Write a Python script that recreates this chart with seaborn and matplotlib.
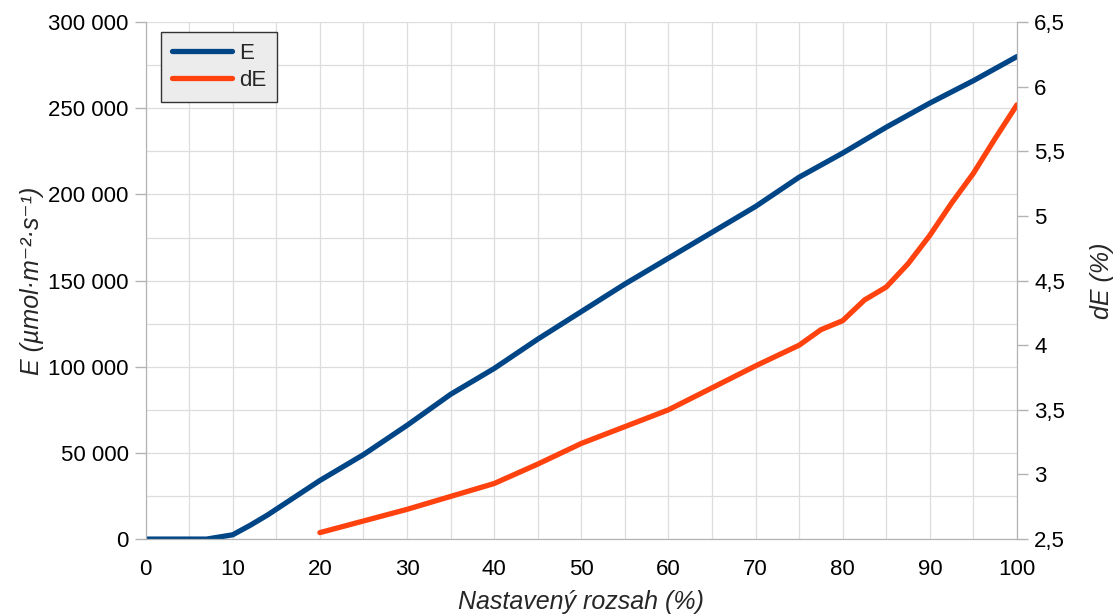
import matplotlib
matplotlib.use("Agg")
import matplotlib.pyplot as plt
import seaborn as sns
import pandas as pd
from matplotlib.ticker import FuncFormatter, MultipleLocator
from matplotlib.lines import Line2D

# E (umol m-2 s-1) vs nastaveny rozsah
rozsah_E = [0, 5, 7, 10, 12, 14, 20, 25, 30, 35, 40, 45, 50, 55, 60, 65, 70, 75, 80, 85, 90, 95, 100]
hodnoty_E = [0, 0, 0, 2500, 8000, 14000, 34000, 49000, 66000, 84000, 99000, 116000, 132000,
             148000, 163000, 178000, 193000, 210000, 224000, 239000, 253000, 266000, 280000]

# dE (%)
rozsah_dE = [20, 25, 30, 35, 40, 45, 50, 55, 60, 65, 70, 75, 77.5, 80, 82.5, 85, 87.5, 90, 92.5, 95, 97.5, 100]
hodnoty_dE = [2.55, 2.64, 2.73, 2.83, 2.93, 3.08, 3.24, 3.37, 3.50, 3.67, 3.84, 4.00, 4.12, 4.19,
              4.35, 4.45, 4.63, 4.85, 5.10, 5.33, 5.60, 5.86]

df_E = pd.DataFrame({"rozsah": rozsah_E, "E": hodnoty_E})
df_dE = pd.DataFrame({"rozsah": rozsah_dE, "dE": hodnoty_dE})

sns.set_style("white")
plt.rcParams['font.family'] = ['Liberation Sans', 'DejaVu Sans']

modra = "#004586"
oranzova = "#ff420e"
sediva = "#b3b3b3"
tloustka = 3.8

fig = plt.figure(figsize=(11.2, 6.14), dpi=100)
ax = fig.add_axes([0.130, 0.122, 0.778, 0.842])
ax2 = ax.twinx()

sns.lineplot(data=df_E, x="rozsah", y="E", ax=ax, color=modra, linewidth=tloustka)
sns.lineplot(data=df_dE, x="rozsah", y="dE", ax=ax2, color=oranzova, linewidth=tloustka)

ax.set_xlim(0, 100)
ax.set_ylim(0, 300000)
ax2.set_ylim(2.5, 6.5)

ax.xaxis.set_major_locator(MultipleLocator(10))
ax.xaxis.set_minor_locator(MultipleLocator(5))
ax.yaxis.set_major_locator(MultipleLocator(50000))
ax.yaxis.set_minor_locator(MultipleLocator(25000))
ax2.yaxis.set_major_locator(MultipleLocator(0.5))

ax.yaxis.set_major_formatter(FuncFormatter(lambda v, p: f"{int(v):,}".replace(",", " ")))
ax2.yaxis.set_major_formatter(FuncFormatter(lambda v, p: f"{v:g}".replace(".", ",")))

ax.grid(True, which="both", color="#dddddd", linewidth=0.9)
ax.set_axisbelow(True)

for a in (ax, ax2):
    for s in a.spines.values():
        s.set_color(sediva)
    a.spines["top"].set_visible(False)
    a.tick_params(which="major", length=8, width=1, color=sediva, labelsize=16,
                  labelcolor="black", pad=4.3)
    a.tick_params(which="minor", length=0)
ax.tick_params(axis="x", pad=6.5)

ax.set_xlabel("Nastavený rozsah (%)", fontsize=18, style="italic", labelpad=7)
ax.set_ylabel("E (µmol·m⁻²·s⁻¹)", fontsize=18, style="italic", labelpad=3)
ax2.set_ylabel("dE (%)", fontsize=18, style="italic", labelpad=18)

handles = [Line2D([], [], color=modra, linewidth=tloustka), Line2D([], [], color=oranzova, linewidth=tloustka)]
leg = ax2.legend(handles, ["E", "dE"], loc="upper left", bbox_to_anchor=(0.018, 0.981),
                 borderaxespad=0, fontsize=16, frameon=True, fancybox=False,
                 handlelength=2.7, handletextpad=0.3, labelspacing=0.25, borderpad=0.5)
leg.get_frame().set_facecolor("#ececec")
leg.get_frame().set_edgecolor("#333333")
leg.get_frame().set_alpha(1)

fig.savefig("out.png", dpi=100)
